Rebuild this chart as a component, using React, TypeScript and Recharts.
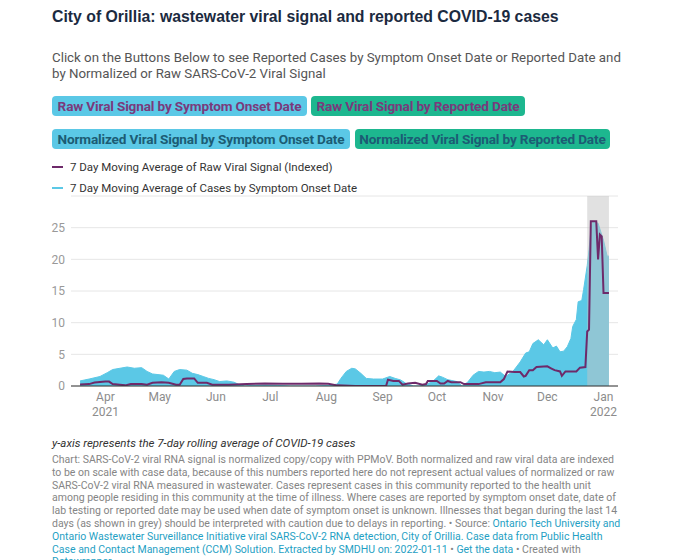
import React from "react";
import {
  ComposedChart,
  Area,
  Line,
  XAxis,
  YAxis,
  CartesianGrid,
  ReferenceArea,
} from "recharts";

// ---- Data ----
const caseDates = [
  "2021-03-18", "2021-03-23", "2021-03-29", "2021-04-02", "2021-04-05", "2021-04-09",
  "2021-04-13", "2021-04-17", "2021-04-21", "2021-04-24", "2021-04-27", "2021-04-30",
  "2021-05-03", "2021-05-06", "2021-05-09", "2021-05-12", "2021-05-16", "2021-05-19",
  "2021-05-22", "2021-05-25", "2021-05-28", "2021-05-31", "2021-06-03", "2021-06-07",
  "2021-06-11", "2021-06-14", "2021-06-17", "2021-06-21", "2021-06-28", "2021-07-05",
  "2021-07-12", "2021-07-19", "2021-07-26", "2021-08-02", "2021-08-07", "2021-08-09",
  "2021-08-12", "2021-08-15", "2021-08-17", "2021-08-20", "2021-08-23", "2021-08-27",
  "2021-09-01", "2021-09-05", "2021-09-08", "2021-09-11", "2021-09-14", "2021-09-18",
  "2021-09-21", "2021-09-25", "2021-09-29", "2021-10-02", "2021-10-04", "2021-10-07",
  "2021-10-12", "2021-10-15", "2021-10-18", "2021-10-21", "2021-10-24", "2021-10-27",
  "2021-10-30", "2021-11-02", "2021-11-05", "2021-11-08", "2021-11-12", "2021-11-16",
  "2021-11-19", "2021-11-21", "2021-11-23", "2021-11-26", "2021-11-29", "2021-12-01",
  "2021-12-04", "2021-12-06", "2021-12-08", "2021-12-10", "2021-12-12", "2021-12-14",
  "2021-12-15", "2021-12-17", "2021-12-18", "2021-12-20", "2021-12-21", "2021-12-23",
  "2021-12-24", "2021-12-25", "2021-12-26", "2021-12-29", "2022-01-01", "2022-01-03",
  "2022-01-04",
];
const caseValues = [
  0.8, 1.1, 1.5, 2.1, 2.6, 2.8,
  3.0, 2.8, 2.9, 2.3, 1.9, 1.8,
  1.7, 1.1, 2.3, 2.6, 2.5, 2.0,
  1.8, 1.5, 1.2, 1.0, 0.7, 0.8,
  0.6, 0.2, 0.0, 0.1, 0.15, 0.1,
  0.0, 0.0, 0.0, 0.1, 0.3, 1.2,
  2.3, 2.8, 2.7, 2.0, 1.2, 1.1,
  1.1, 1.5, 1.2, 0.95, 0.4, 0.0,
  0.0, 0.2, 0.8, 1.6, 1.4, 1.0,
  0.7, 0.0, 0.6, 1.7, 2.3, 2.2,
  2.3, 2.1, 2.2, 1.5, 2.3, 3.8,
  5.2, 5.4, 6.7, 7.3, 6.5, 7.3,
  6.0, 6.3, 5.4, 5.5, 6.2, 7.5,
  9.4, 10.5, 13.3, 13.5, 15.2, 19.0,
  21.5, 24.5, 26.0, 25.7, 23.0, 20.5,
  20.5,
];

const viralDates = [
  "2021-03-18", "2021-03-23", "2021-03-26", "2021-04-01", "2021-04-03", "2021-04-05",
  "2021-04-09", "2021-04-12", "2021-04-15", "2021-04-21", "2021-04-24", "2021-04-27",
  "2021-05-02", "2021-05-06", "2021-05-10", "2021-05-12", "2021-05-14", "2021-05-16",
  "2021-05-20", "2021-05-22", "2021-05-27", "2021-05-30", "2021-06-08", "2021-06-18",
  "2021-06-28", "2021-07-08", "2021-07-18", "2021-07-28", "2021-08-02", "2021-08-07",
  "2021-08-17", "2021-08-27", "2021-09-03", "2021-09-04", "2021-09-07", "2021-09-10",
  "2021-09-12", "2021-09-15", "2021-09-19", "2021-09-23", "2021-09-25", "2021-09-26",
  "2021-10-01", "2021-10-03", "2021-10-05", "2021-10-07", "2021-10-09", "2021-10-14",
  "2021-10-16", "2021-10-24", "2021-10-28", "2021-11-05", "2021-11-07", "2021-11-09",
  "2021-11-13", "2021-11-16", "2021-11-18", "2021-11-19", "2021-11-21", "2021-11-23",
  "2021-11-25", "2021-12-01", "2021-12-03", "2021-12-05", "2021-12-08", "2021-12-09",
  "2021-12-11", "2021-12-17", "2021-12-19", "2021-12-22", "2021-12-23", "2021-12-24",
  "2021-12-25", "2021-12-28", "2021-12-29", "2021-12-30", "2021-12-31", "2022-01-01",
  "2022-01-04",
];
const viralValues = [
  0.25, 0.3, 0.55, 0.7, 0.7, 0.3,
  0.2, 0.1, 0.3, 0.3, 0.2, 0.5,
  0.6, 0.5, 0.2, 0.2, 1.1, 1.2,
  1.2, 0.5, 0.5, 0.2, 0.2, 0.3,
  0.4, 0.35, 0.35, 0.4, 0.35, 0.1,
  0.0, 0.0, 0.05, 1.0, 0.8, 0.8,
  0.2, 0.4, 0.5, 0.2, 0.3, 0.8,
  0.8, 0.4, 0.4, 0.8, 0.6, 0.6,
  0.3, 0.3, 0.6, 0.6, 1.1, 2.3,
  2.2, 2.2, 1.5, 1.6, 2.5, 2.5,
  3.0, 3.1, 2.8, 2.5, 2.3, 1.6,
  2.3, 2.3, 2.9, 3.0, 8.6, 8.9,
  26.0, 26.0, 20.0, 23.9, 23.6, 14.7,
  14.7,
];

const monthTicks = [
  "2021-04-01", "2021-05-01", "2021-06-01", "2021-07-01", "2021-08-01",
  "2021-09-01", "2021-10-01", "2021-11-01", "2021-12-01", "2022-01-01",
];
const monthLabels = ["Apr", "May", "Jun", "Jul", "Aug", "Sep", "Oct", "Nov", "Dec", "Jan"];
const yearLabels = ["2021", "", "", "", "", "", "", "", "", "2022"];
const yTicks = [0, 5, 10, 15, 20, 25];
const yMax = 30;
const domainStart = "2021-03-13";
const domainEnd = "2022-01-09";
const greyStart = "2021-12-23";
const greyEnd = "2022-01-04";

const ts = (d: string) => Date.parse(d + "T00:00:00Z");

const caseData = caseDates.map((d, i) => ({ t: ts(d), v: caseValues[i] }));
const viralData = viralDates.map((d, i) => ({ t: ts(d), v: viralValues[i] }));
const monthTickTs = monthTicks.map(ts);

const PURPLE = "#6e2a6a";
const BLUE = "#5bc8e6";
const GREEN = "#1db78f";

const MonthTick = (props: any) => {
  const { x, y, payload } = props;
  const i = monthTickTs.indexOf(payload.value);
  return (
    <text x={x} y={y} textAnchor="middle" fill="#8c8c8c" fontSize={12} fontFamily="Roboto">
      <tspan x={x} dy="0.71em">{monthLabels[i]}</tspan>
      {yearLabels[i] ? (
        <tspan x={x} dy="1.25em">{yearLabels[i]}</tspan>
      ) : null}
    </text>
  );
};

const abs = (top: number, left: number): React.CSSProperties => ({
  position: "absolute",
  top,
  left,
  whiteSpace: "nowrap",
});

const buttonStyle = (
  top: number,
  left: number,
  width: number,
  bg: string,
  color: string
): React.CSSProperties => ({
  ...abs(top, left),
  width,
  height: 20,
  lineHeight: "20px",
  background: bg,
  color,
  borderRadius: 4,
  fontFamily: "Roboto",
  fontWeight: 700,
  fontSize: 13.6,
  textAlign: "center",
  letterSpacing: -0.15,
});

const footerLink = { color: "#1f9fc4" };

export default function App() {
  return (
    <div
      style={{
        position: "absolute",
        left: 0,
        top: 0,
        width: 680,
        height: 560,
        background: "#fff",
        overflow: "hidden",
        fontFamily: "Roboto",
      }}
    >
      <div
        style={{
          ...abs(8, 52),
          fontFamily: "'Liberation Sans', Arial, sans-serif",
          fontWeight: 700,
          fontSize: 15.8,
          lineHeight: "18px",
          color: "#1b2a40",
        }}
      >
        City of Orillia: wastewater viral signal and reported COVID-19 cases
      </div>
      <div style={{ ...abs(50, 52), fontSize: 13.3, lineHeight: "16px", color: "#555", fontWeight: 400 }}>
        Click on the Buttons Below to see Reported Cases by Symptom Onset Date or Reported Date and
        <br />
        by Normalized or Raw SARS-CoV-2 Viral Signal
      </div>

      <div style={buttonStyle(96, 52, 255, BLUE, "#7a3a7c")}>Raw Viral Signal by Symptom Onset Date</div>
      <div style={buttonStyle(96, 311, 214, GREEN, "#7a3a7c")}>Raw Viral Signal by Reported Date</div>
      <div style={buttonStyle(129, 52, 298, BLUE, "#1c5c74")}>Normalized Viral Signal by Symptom Onset Date</div>
      <div style={buttonStyle(129, 355, 255, GREEN, "#1c5c74")}>Normalized Viral Signal by Reported Date</div>

      <div style={{ ...abs(160, 52), fontSize: 11.5, lineHeight: "14px", color: "#333", display: "flex", alignItems: "center" }}>
        <span style={{ display: "inline-block", width: 11, height: 2, background: PURPLE, marginRight: 7 }} />
        7 Day Moving Average of Raw Viral Signal (Indexed)
      </div>
      <div style={{ ...abs(181, 52), fontSize: 11.5, lineHeight: "14px", color: "#333", display: "flex", alignItems: "center" }}>
        <span style={{ display: "inline-block", width: 11, height: 2, background: BLUE, marginRight: 7 }} />
        7 Day Moving Average of Cases by Symptom Onset Date
      </div>

      <div style={abs(0, 0)}>
        <ComposedChart
          width={680}
          height={430}
          margin={{ top: 196, right: 62, left: 0, bottom: 4 }}
        >
          <CartesianGrid vertical={false} stroke="#e6e6e6" />
          <XAxis
            type="number"
            dataKey="t"
            domain={[ts(domainStart), ts(domainEnd)]}
            ticks={monthTickTs}
            interval={0}
            tick={<MonthTick />}
            tickLine={false}
            tickSize={0}
            tickMargin={6}
            axisLine={{ stroke: "#333", strokeWidth: 1 }}
            height={40}
            allowDataOverflow
          />
          <YAxis
            type="number"
            domain={[0, yMax]}
            ticks={yTicks}
            interval={0}
            width={71}
            axisLine={false}
            tickLine={false}
            tickSize={0}
            tickMargin={6}
            allowDataOverflow
            tick={{ fill: "#999", fontSize: 12, fontFamily: "Roboto" }}
          />
          <Area
            data={caseData}
            dataKey="v"
            type="linear"
            fill={BLUE}
            fillOpacity={1}
            stroke={BLUE}
            strokeWidth={1}
            isAnimationActive={false}
            dot={false}
            activeDot={false}
          />
          <ReferenceArea
            x1={ts(greyStart)}
            x2={ts(greyEnd)}
            y1={0}
            y2={yMax}
            fill="#c4c4c4"
            fillOpacity={0.5}
            stroke="none"
          />
          <Line
            data={viralData}
            dataKey="v"
            type="linear"
            stroke={PURPLE}
            strokeWidth={2}
            dot={false}
            activeDot={false}
            isAnimationActive={false}
          />
        </ComposedChart>
      </div>

      <div style={{ ...abs(435, 52), fontSize: 11.5, fontStyle: "italic", lineHeight: "16px", color: "#333" }}>
        y-axis represents the 7-day rolling average of COVID-19 cases
      </div>
      <div style={{ ...abs(454, 52), fontSize: 10.5, lineHeight: "12.8px", color: "#858585" }}>
        <div>Chart: SARS-CoV-2 viral RNA signal is normalized copy/copy with PPMoV. Both normalized and raw viral data are indexed</div>
        <div>to be on scale with case data, because of this numbers reported here do not represent actual values of normalized or raw</div>
        <div>SARS-CoV-2 viral RNA measured in wastewater. Cases represent cases in this community reported to the health unit</div>
        <div>among people residing in this community at the time of illness. Where cases are reported by symptom onset date, date of</div>
        <div>lab testing or reported date may be used when date of symptom onset is unknown. Illnesses that began during the last 14</div>
        <div>
          days (as shown in grey) should be interpreted with caution due to delays in reporting. • Source:{" "}
          <span style={footerLink}>Ontario Tech University and</span>
        </div>
        <div style={footerLink}>
          Ontario Wastewater Surveillance Initiative viral SARS-CoV-2 RNA detection, City of Orillia. Case data from Public Health
        </div>
        <div>
          <span style={footerLink}>Case and Contact Management (CCM) Solution. Extracted by SMDHU on: 2022-01-11</span> •{" "}
          <span style={footerLink}>Get the data</span> • Created with
        </div>
        <div style={footerLink}>Datawrapper</div>
      </div>
    </div>
  );
}
